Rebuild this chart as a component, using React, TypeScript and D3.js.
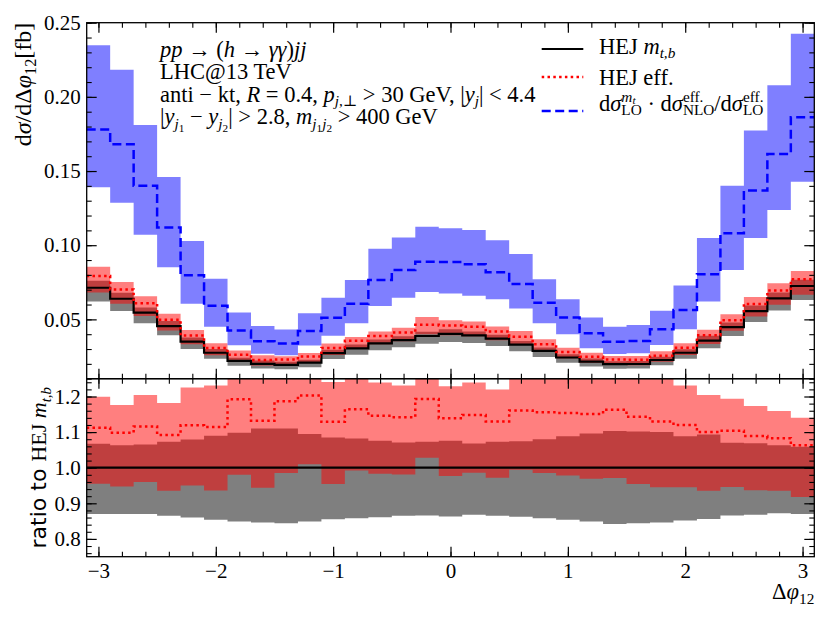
import { useRef, useEffect } from 'react';
import * as d3 from 'd3';

// bin centres in Delta phi_12 (bin width 0.2)
const binCenters = [
  -3.0, -2.8, -2.6, -2.4, -2.2, -2.0, -1.8, -1.6, -1.4, -1.2, -1.0, -0.8, -0.6, -0.4, -0.2, 0.0,
  0.2, 0.4, 0.6, 0.8, 1.0, 1.2, 1.4, 1.6, 1.8, 2.0, 2.2, 2.4, 2.6, 2.8, 3.0,
];

// HEJ m_{t,b} central value [fb]
const hejMtb = [
  0.0713, 0.0639, 0.0545, 0.0455, 0.035, 0.0275, 0.022, 0.02, 0.0193, 0.0208, 0.0272, 0.0305,
  0.0338, 0.036, 0.0388, 0.0402, 0.0392, 0.037, 0.033, 0.0288, 0.0243, 0.0215, 0.0198, 0.0199,
  0.0226, 0.0275, 0.0357, 0.0448, 0.0555, 0.0641, 0.0725,
];
// HEJ m_{t,b} scale band, relative to central
const mtbRatioLo = [
  0.87, 0.87, 0.87, 0.865, 0.86, 0.854, 0.849, 0.846, 0.844, 0.849, 0.855, 0.858, 0.861, 0.865,
  0.866, 0.863, 0.868, 0.865, 0.862, 0.858, 0.854, 0.849, 0.842, 0.844, 0.846, 0.852, 0.856,
  0.866, 0.868, 0.872, 0.87,
];
const mtbRatioHi = [
  1.067, 1.063, 1.065, 1.073, 1.079, 1.09, 1.098, 1.11, 1.11, 1.095, 1.085, 1.082, 1.076, 1.071,
  1.073, 1.076, 1.068, 1.073, 1.074, 1.08, 1.088, 1.096, 1.103, 1.102, 1.1, 1.088, 1.093, 1.07,
  1.069, 1.063, 1.059,
];
// HEJ eff. relative to HEJ m_{t,b}
const effRatio = [
  1.112, 1.098, 1.116, 1.092, 1.119, 1.114, 1.192, 1.132, 1.187, 1.203, 1.129, 1.164, 1.146,
  1.142, 1.193, 1.139, 1.148, 1.13, 1.161, 1.156, 1.154, 1.151, 1.163, 1.143, 1.13, 1.12, 1.1,
  1.104, 1.089, 1.083, 1.063,
];
const effRatioLo = [
  0.955, 0.947, 0.96, 0.935, 0.95, 0.936, 0.98, 0.944, 0.985, 1.01, 0.954, 0.992, 0.983, 0.981,
  1.028, 0.977, 0.986, 0.972, 0.994, 0.985, 0.978, 0.969, 0.971, 0.954, 0.945, 0.945, 0.935,
  0.946, 0.937, 0.935, 0.918,
];
const effRatioHi = [
  1.199, 1.176, 1.204, 1.182, 1.225, 1.231, 1.32, 1.29, 1.3, 1.31, 1.241, 1.25, 1.239, 1.231,
  1.33, 1.229, 1.239, 1.22, 1.28, 1.27, 1.27, 1.28, 1.28, 1.27, 1.26, 1.231, 1.204, 1.194, 1.173,
  1.159, 1.14,
];
// dsigma_LO^{m_t} * dsigma_NLO^eff / dsigma_LO^eff [fb]
const nloCentral = [
  0.178, 0.168, 0.14, 0.112, 0.0797, 0.0592, 0.0425, 0.0353, 0.0338, 0.0422, 0.0511, 0.0605,
  0.0765, 0.0832, 0.0888, 0.0886, 0.0871, 0.0817, 0.0738, 0.0612, 0.0513, 0.0406, 0.0349, 0.0354,
  0.0433, 0.0563, 0.0805, 0.108, 0.1369, 0.1614, 0.1863,
];
const nloLo = [
  0.139, 0.1286, 0.107, 0.0852, 0.0605, 0.045, 0.0326, 0.0268, 0.0258, 0.0323, 0.039, 0.0473,
  0.059, 0.0646, 0.0684, 0.0675, 0.0659, 0.0635, 0.0574, 0.0473, 0.0399, 0.0305, 0.0266, 0.0271,
  0.0327, 0.0433, 0.0621, 0.0832, 0.1048, 0.1237, 0.1427,
];
const nloHi = [
  0.2348, 0.2182, 0.1811, 0.146, 0.1028, 0.0774, 0.0547, 0.0455, 0.0432, 0.0542, 0.0646, 0.0765,
  0.0976, 0.1052, 0.1124, 0.1115, 0.1102, 0.1034, 0.094, 0.077, 0.0635, 0.0513, 0.045, 0.0462,
  0.0558, 0.0729, 0.1048, 0.14, 0.1774, 0.2079, 0.2425,
];

const xMajor = [-3, -2, -1, 0, 1, 2, 3];
const xMinor = d3.range(-30, 31, 2).map((v) => v / 10);
const topMajor = [0.05, 0.1, 0.15, 0.2, 0.25];
const topMinor = d3.range(1, 26).map((v) => v / 100);
const ratioMajor = [0.8, 0.9, 1.0, 1.1, 1.2];
const ratioMinor = d3.range(76, 125, 2).map((v) => v / 100);

const SERIF = '"Liberation Serif", "DejaVu Serif", serif';
const SANS = '"DejaVu Sans", sans-serif';
const FS_TICK = 21;
const FS = 22.5;

type Atom = { t: string; it?: boolean; sc?: number; dy?: number; sans?: boolean };
type Piece = Atom | { stack: Atom[][] };

const sub = (t: string, it = true): Atom => ({ t, it, sc: 0.68, dy: 0.22 });
const subsub = (t: string): Atom => ({ t, sc: 0.5, dy: 0.36 });
const sup = (t: string, it = false): Atom => ({ t, it, sc: 0.68, dy: -0.38 });

// lays out a run of pieces as tspans of one <text>, from x=0 on the baseline; returns width
function drawMath(g: d3.Selection<SVGGElement, unknown, null, undefined>, pieces: Piece[], size: number) {
  const text = g.append('text').attr('font-family', SERIF).attr('font-size', size)
    .style('white-space', 'pre');
  let x = 0;
  const put = (a: Atom, x0: number) => {
    const ts = text
      .append('tspan')
      .attr('x', x0)
      .attr('y', (a.dy || 0) * size)
      .attr('font-size', size * (a.sc || 1))
      .attr('font-style', a.it ? 'italic' : 'normal')
      .attr('font-family', a.sans ? SANS : SERIF)
      .text(a.t);
    return (ts.node() as SVGTSpanElement).getComputedTextLength();
  };
  for (const p of pieces) {
    if ('stack' in p) {
      let w = 0;
      for (const row of p.stack) {
        let xx = x;
        for (const a of row) xx += put(a, xx);
        w = Math.max(w, xx - x);
      }
      x += w;
    } else {
      x += put(p, x);
    }
  }
  return x;
}

export default function App() {
  const svgRef = useRef<SVGSVGElement>(null);

  useEffect(() => {
    if (!svgRef.current) return;
    const svg = d3.select(svgRef.current);
    svg.selectAll('*').remove();

    const L = 86.7;
    const R = 814.3;
    const T1 = 22.7;
    const B1 = 378.7;
    const B2 = 556.7;
    const n = binCenters.length;

    const x = d3.scaleLinear().domain([-3.1, 3.1]).range([L, R]);
    const yTop = d3.scaleLinear().domain([0.01, 0.25]).range([B1, T1]);
    const yRat = d3.scaleLinear().domain([0.75, 1.25]).range([B2, B1]);

    const defs = svg.append('defs');
    defs.append('clipPath').attr('id', 'clipTop').append('rect')
      .attr('x', L).attr('y', T1).attr('width', R - L).attr('height', B1 - T1);
    defs.append('clipPath').attr('id', 'clipRat').append('rect')
      .attr('x', L).attr('y', B1).attr('width', R - L).attr('height', B2 - B1);

    const gTop = svg.append('g').attr('clip-path', 'url(#clipTop)');
    const gRat = svg.append('g').attr('clip-path', 'url(#clipRat)');

    const band = (
      g: d3.Selection<SVGGElement, unknown, null, undefined>,
      y: d3.ScaleLinear<number, number>,
      lo: number[],
      hi: number[],
      fill: string
    ) => {
      const pts = binCenters.map((c, i) => ({ x: c - 0.1, lo: lo[i], hi: hi[i] }));
      pts.push({ x: binCenters[n - 1] + 0.1, lo: lo[n - 1], hi: hi[n - 1] });
      const area = d3
        .area<{ x: number; lo: number; hi: number }>()
        .curve(d3.curveStepAfter)
        .x((d) => x(d.x))
        .y0((d) => y(d.lo))
        .y1((d) => y(d.hi));
      g.append('path').attr('d', area(pts)).attr('fill', fill).attr('fill-opacity', 0.5);
    };

    const step = (
      g: d3.Selection<SVGGElement, unknown, null, undefined>,
      y: d3.ScaleLinear<number, number>,
      vals: number[],
      color: string,
      width: number,
      dash?: string
    ) => {
      const pts: [number, number][] = binCenters.map((c, i) => [c - 0.1, vals[i]]);
      pts.push([binCenters[n - 1] + 0.1, vals[n - 1]]);
      const line = d3.line<[number, number]>().curve(d3.curveStepAfter)
        .x((d) => x(d[0])).y((d) => y(d[1]));
      g.append('path').attr('d', line(pts)).attr('fill', 'none').attr('stroke', color)
        .attr('stroke-width', width).attr('stroke-dasharray', dash || null);
    };

    // top panel values
    const mtbLo = hejMtb.map((v, i) => v * mtbRatioLo[i]);
    const mtbHi = hejMtb.map((v, i) => v * mtbRatioHi[i]);
    const eff = hejMtb.map((v, i) => v * effRatio[i]);
    const effLo = hejMtb.map((v, i) => v * effRatioLo[i]);
    const effHi = hejMtb.map((v, i) => v * effRatioHi[i]);

    band(gTop, yTop, mtbLo, mtbHi, '#000000');
    band(gTop, yTop, effLo, effHi, '#ff0000');
    band(gTop, yTop, nloLo, nloHi, '#0000ff');
    step(gTop, yTop, hejMtb, '#000000', 2.2);
    step(gTop, yTop, eff, '#ff0000', 2.5, '2.5,3.3');
    step(gTop, yTop, nloCentral, '#0000ff', 2.5, '9,4.5');

    // ratio panel
    band(gRat, yRat, mtbRatioLo, mtbRatioHi, '#000000');
    band(gRat, yRat, effRatioLo, effRatioHi, '#ff0000');
    step(gRat, yRat, hejMtb.map(() => 1), '#000000', 2.2);
    step(gRat, yRat, effRatio, '#ff0000', 2.5, '2.5,3.3');

    // ticks on all four sides of both panels
    const addAxis = (
      axis: d3.Axis<d3.NumberValue>,
      transform: string,
      major: number[],
      minor: number[],
      fmt: ((d: d3.NumberValue) => string) | null
    ) => {
      const gMin = svg.append('g').attr('transform', transform)
        .call(axis.tickValues(minor).tickSize(-5).tickFormat(() => ''));
      gMin.select('.domain').remove();
      gMin.selectAll('text').remove();
      gMin.selectAll('line').attr('stroke-width', 1.1);
      const gMaj = svg.append('g').attr('transform', transform)
        .call(axis.tickValues(major).tickSize(-10).tickPadding(6).tickFormat(fmt || (() => '')));
      gMaj.select('.domain').remove();
      if (!fmt) gMaj.selectAll('text').remove();
      gMaj.selectAll('line').attr('stroke-width', 1.2);
      gMaj.attr('font-family', SERIF).attr('font-size', FS_TICK);
    };

    const f2 = (d: d3.NumberValue) => d3.format('.2f')(d as number);
    const f1 = (d: d3.NumberValue) => d3.format('.1f')(d as number);
    const fx = (d: d3.NumberValue) => d3.format('d')(d as number);

    addAxis(d3.axisBottom(x), `translate(0,${B1})`, xMajor, xMinor, null);
    addAxis(d3.axisTop(x), `translate(0,${T1})`, xMajor, xMinor, null);
    addAxis(d3.axisLeft(yTop), `translate(${L},0)`, topMajor, topMinor, f2);
    addAxis(d3.axisRight(yTop), `translate(${R},0)`, topMajor, topMinor, null);

    addAxis(d3.axisBottom(x), `translate(0,${B2})`, xMajor, xMinor, fx);
    addAxis(d3.axisTop(x), `translate(0,${B1})`, xMajor, xMinor, null);
    addAxis(d3.axisLeft(yRat), `translate(${L},0)`, ratioMajor, ratioMinor, f1);
    addAxis(d3.axisRight(yRat), `translate(${R},0)`, ratioMajor, ratioMinor, null);

    // frames
    svg.append('rect').attr('x', L).attr('y', T1).attr('width', R - L).attr('height', B1 - T1)
      .attr('fill', 'none').attr('stroke', '#000').attr('stroke-width', 1.3);
    svg.append('rect').attr('x', L).attr('y', B1).attr('width', R - L).attr('height', B2 - B1)
      .attr('fill', 'none').attr('stroke', '#000').attr('stroke-width', 1.3);

    // text placed with anchor 0 (start), 0.5 (middle), 1 (end)
    const label = (pieces: Piece[], tx: number, ty: number, anchor = 0, rotate = 0, size = FS) => {
      const outer = svg.append('g').attr('transform', `translate(${tx},${ty}) rotate(${rotate})`);
      const inner = outer.append('g');
      const w = drawMath(inner, pieces, size);
      inner.attr('transform', `translate(${-w * anchor},0)`);
    };

    // process description
    label([{ t: 'pp', it: true }, { t: ' → (' }, { t: 'h', it: true }, { t: ' → ' },
      { t: 'γγ', it: true }, { t: ')' }, { t: 'jj', it: true }], 160, 57);
    label([{ t: 'LHC@13 TeV' }], 160, 79);
    label([{ t: 'anti − kt, ' }, { t: 'R', it: true }, { t: ' = 0.4, ' }, { t: 'p', it: true },
      sub('j'), sub(',⊥', false), { t: ' > 30 GeV, |' }, { t: 'y', it: true }, sub('j'),
      { t: '| < 4.4' }], 160, 101.5);
    label([{ t: '|' }, { t: 'y', it: true }, sub('j'), subsub('1'), { t: ' − ' }, { t: 'y', it: true },
      sub('j'), subsub('2'), { t: '| > 2.8, ' }, { t: 'm', it: true }, sub('j'), subsub('1'),
      sub('j'), subsub('2'), { t: ' > 400 GeV' }], 160, 124);

    // legend
    const legX0 = 541.7;
    const legX1 = 583.3;
    const legRows = [
      { y: 49, base: 53.5, color: '#000000', dash: null as string | null, w: 2.2,
        text: [{ t: 'HEJ ' }, { t: 'm', it: true }, sub('t,b')] as Piece[] },
      { y: 77, base: 84.5, color: '#ff0000', dash: '2.5,3.3', w: 2.5,
        text: [{ t: 'HEJ eff.' }] as Piece[] },
      { y: 111, base: 110.5, color: '#0000ff', dash: '9,4.5', w: 2.5,
        text: [
          { t: 'd' }, { t: 'σ', it: true },
          { stack: [[sup('m', true), { t: 't', it: true, sc: 0.5, dy: -0.29 }], [sub('LO', false)]] },
          { t: ' · d' }, { t: 'σ', it: true },
          { stack: [[sup('eff.')], [sub('NLO', false)]] },
          { t: '/d' }, { t: 'σ', it: true },
          { stack: [[sup('eff.')], [sub('LO', false)]] },
        ] as Piece[] },
    ];
    legRows.forEach((r) => {
      svg.append('line').attr('x1', legX0).attr('x2', legX1).attr('y1', r.y).attr('y2', r.y)
        .attr('stroke', r.color).attr('stroke-width', r.w).attr('stroke-dasharray', r.dash);
      label(r.text, 599, r.base);
    });

    // axis titles
    label([{ t: 'd' }, { t: 'σ', it: true }, { t: '/d' }, { t: 'Δ' }, { t: 'φ', it: true },
      sub('12', false), { t: '[fb]' }], 31, T1, 1, -90, 24);
    label([{ t: 'ratio to ', sans: true }, { t: 'HEJ ' }, { t: 'm', it: true }, sub('t,b')],
      46, (B1 + B2) / 2, 0.5, -90, 22);
    label([{ t: 'Δ' }, { t: 'φ', it: true }, sub('12', false)], R, 599, 1);
  }, []);

  return (
    <div style={{ position: 'absolute', left: 0, top: 0 }}>
      <svg ref={svgRef} width={830} height={623} style={{ display: 'block', background: '#fff' }} />
    </div>
  );
}
